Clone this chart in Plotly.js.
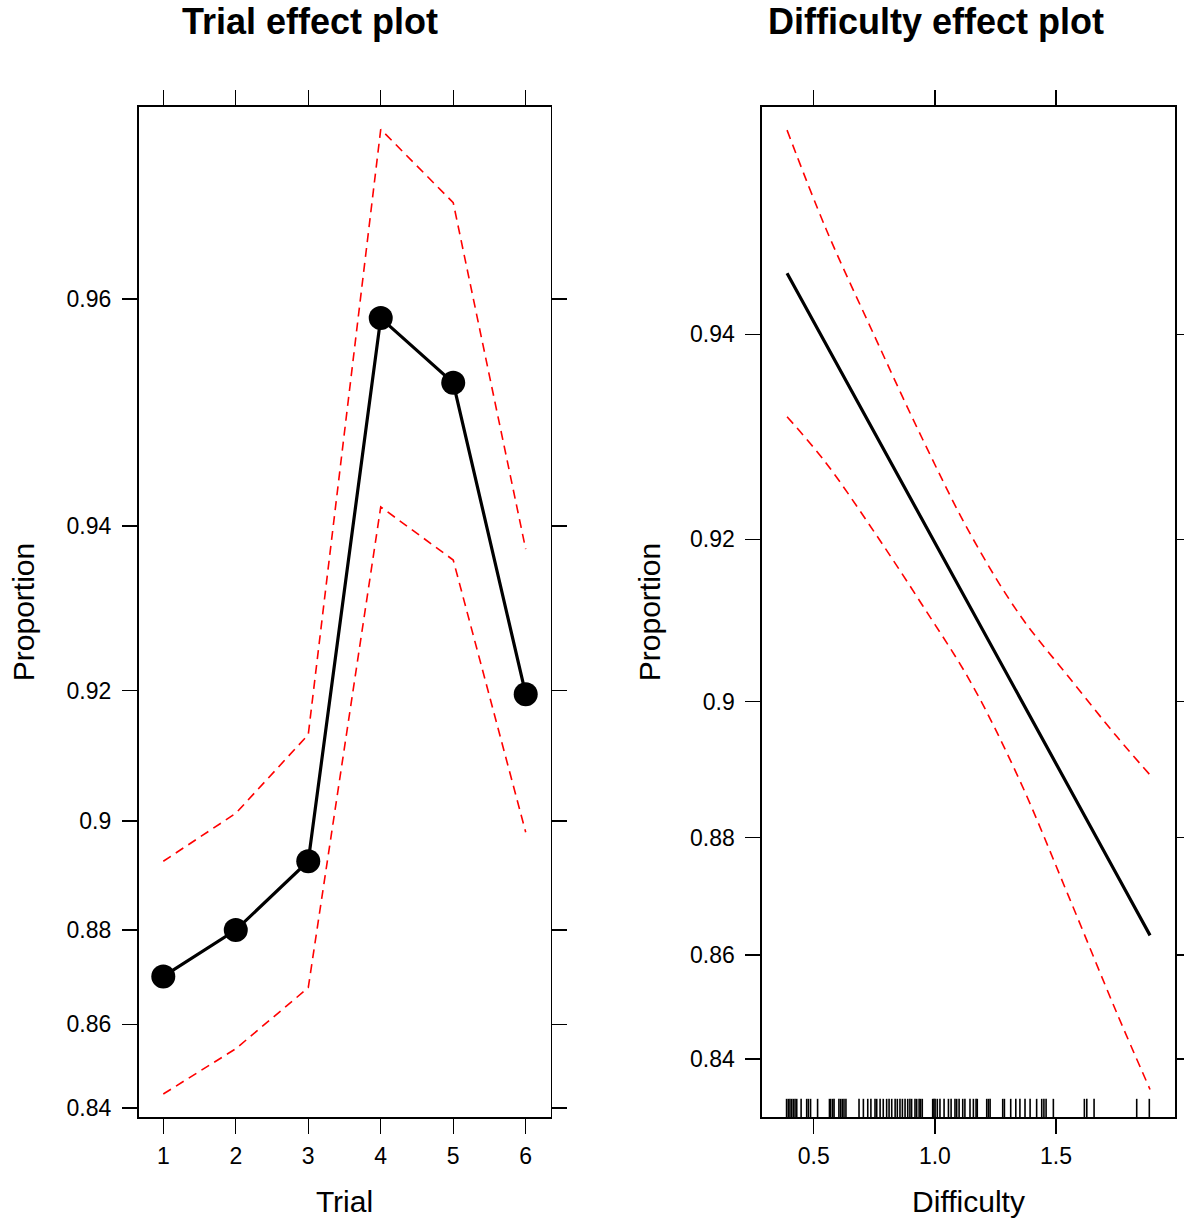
<!DOCTYPE html>
<html><head><meta charset="utf-8">
<script src="https://cdn.plot.ly/plotly-3.0.1.min.js"></script>
<style>html,body{margin:0;padding:0;background:#fff}</style>
</head><body>
<div id="chart" style="width:1184px;height:1219px"></div>
<script>
// ---- Trial effect (proportion scale) ----
const trials = [1, 2, 3, 4, 5, 6];
const trialFit = [0.8705, 0.8800, 0.8930, 0.9586, 0.9535, 0.9195];
const trialUpper = [0.8930, 0.9013, 0.9137, 0.9706, 0.9664, 0.9375];
const trialLower = [0.8435, 0.8544, 0.8681, 0.9420, 0.9363, 0.8981];
const trialTicks = [0.84, 0.86, 0.88, 0.90, 0.92, 0.94, 0.96];
const trialTickText = ["0.84", "0.86", "0.88", "0.9", "0.92", "0.94", "0.96"];

// ---- Difficulty effect (proportion scale) ----
const difficulty = [0.39, 0.55, 0.75, 0.95, 1.15, 1.35, 1.55, 1.75, 1.888];
const diffFit = [0.9450, 0.9392, 0.9311, 0.9220, 0.9119, 0.9006, 0.8880, 0.8740, 0.8635];
const diffUpper = [0.9552, 0.9484, 0.9399, 0.9304, 0.9204, 0.9112, 0.9034, 0.8952, 0.8896];
const diffLower = [0.9326, 0.9281, 0.9208, 0.9123, 0.9025, 0.8888, 0.8705, 0.8492, 0.8337];
const diffTicks = [0.84, 0.86, 0.88, 0.90, 0.92, 0.94];
const diffTickText = ["0.84", "0.86", "0.88", "0.9", "0.92", "0.94"];
const diffXTicks = [0.5, 1.0, 1.5];
const diffXTickText = ["0.5", "1.0", "1.5"];
const rug = [0.388, 0.395, 0.402, 0.409, 0.416, 0.423, 0.430, 0.448, 0.471, 0.478, 0.487, 0.516,
  0.565, 0.570, 0.578, 0.584, 0.604, 0.611, 0.618, 0.625, 0.633, 0.687, 0.705, 0.723, 0.736,
  0.753, 0.760, 0.774, 0.787, 0.801, 0.811, 0.822, 0.836, 0.845, 0.856, 0.866, 0.877, 0.888,
  0.897, 0.904, 0.918, 0.925, 0.935, 0.941, 0.948, 0.991, 0.996, 1.001, 1.010, 1.021, 1.038,
  1.056, 1.067, 1.083, 1.090, 1.100, 1.115, 1.124, 1.145, 1.159, 1.170, 1.175, 1.214, 1.221,
  1.228, 1.280, 1.287, 1.313, 1.334, 1.351, 1.372, 1.393, 1.420, 1.441, 1.450, 1.459, 1.489,
  1.617, 1.627, 1.657, 1.833, 1.885];

// logit scale used by the effect plots
const logit = p => Math.log(p / (1 - p));
const L = arr => arr.map(logit);

const FONT = "Liberation Sans, Arial, Helvetica, sans-serif";
const red = "#FF0000";

const traces = [
  {x: trials, y: L(trialUpper), xaxis: "x", yaxis: "y", mode: "lines",
   line: {color: red, width: 1.6, dash: "9px,6px"}},
  {x: trials, y: L(trialLower), xaxis: "x", yaxis: "y", mode: "lines",
   line: {color: red, width: 1.6, dash: "9px,6px"}},
  {x: trials, y: L(trialFit), xaxis: "x", yaxis: "y", mode: "lines+markers",
   line: {color: "#000", width: 3.2}, marker: {color: "#000", size: 24}},
  {x: difficulty, y: L(diffUpper), xaxis: "x2", yaxis: "y2", mode: "lines",
   line: {color: red, width: 1.6, dash: "9px,6px", shape: "spline"}},
  {x: difficulty, y: L(diffLower), xaxis: "x2", yaxis: "y2", mode: "lines",
   line: {color: red, width: 1.6, dash: "9px,6px", shape: "spline"}},
  {x: difficulty, y: L(diffFit), xaxis: "x2", yaxis: "y2", mode: "lines",
   line: {color: "#000", width: 3.2}}
];

const shapes = rug.map(v => ({type: "line", xref: "x2", yref: "y2 domain",
  x0: v, x1: v, y0: 0, y1: 0.018, line: {color: "#000", width: 1.6}}));

const axisCommon = {
  showline: true, linecolor: "#000", linewidth: 1.6, mirror: "allticks",
  ticks: "outside", ticklen: 15, tickwidth: 1.4, tickcolor: "#000",
  showgrid: false, zeroline: false,
  tickfont: {family: FONT, size: 23, color: "#000"}
};
const yTop = 1 - 107 / 1219, yBot = 1 - 1117 / 1219;

const layout = {
  width: 1184, height: 1219, autosize: false,
  margin: {l: 0, r: 0, t: 0, b: 0},
  paper_bgcolor: "#fff", plot_bgcolor: "#fff",
  showlegend: false,
  font: {family: FONT, color: "#000"},
  xaxis: Object.assign({}, axisCommon, {
    domain: [138.5 / 1184, 550.5 / 1184], range: [0.658, 6.342],
    tickvals: trials, ticktext: trials.map(String), anchor: "y",
    ticklabelstandoff: 3,
    title: {text: "Trial", font: {family: FONT, size: 30, color: "#000"}, standoff: 23}
  }),
  yaxis: Object.assign({}, axisCommon, {
    domain: [yBot, yTop], range: [1.6413, 3.5388],
    tickvals: L(trialTicks), ticktext: trialTickText, anchor: "x",
    ticklabelstandoff: 6,
    title: {text: "Proportion", font: {family: FONT, size: 30, color: "#000"}, standoff: 23}
  }),
  xaxis2: Object.assign({}, axisCommon, {
    domain: [762 / 1184, 1175 / 1184], range: [0.2866, 1.991],
    tickvals: diffXTicks, ticktext: diffXTickText, anchor: "y2",
    ticklabelstandoff: 3,
    title: {text: "Difficulty", font: {family: FONT, size: 30, color: "#000"}, standoff: 23}
  }),
  yaxis2: Object.assign({}, axisCommon, {
    domain: [yBot, yTop], range: [1.5706, 3.0946],
    tickvals: L(diffTicks), ticktext: diffTickText, anchor: "x2",
    ticklabelstandoff: 6,
    title: {text: "Proportion", font: {family: FONT, size: 30, color: "#000"}, standoff: 20}
  }),
  shapes: shapes,
  annotations: [
    {text: "<b>Trial effect plot</b>", xref: "paper", yref: "paper", x: 310 / 1184, y: 1 - 22 / 1219,
     xanchor: "center", yanchor: "middle", showarrow: false,
     font: {family: FONT, size: 36, color: "#000"}},
    {text: "<b>Difficulty effect plot</b>", xref: "paper", yref: "paper", x: 936 / 1184, y: 1 - 22 / 1219,
     xanchor: "center", yanchor: "middle", showarrow: false,
     font: {family: FONT, size: 36, color: "#000"}}
  ]
};

Plotly.newPlot("chart", traces, layout, {staticPlot: true, displayModeBar: false});
</script>
</body></html>
